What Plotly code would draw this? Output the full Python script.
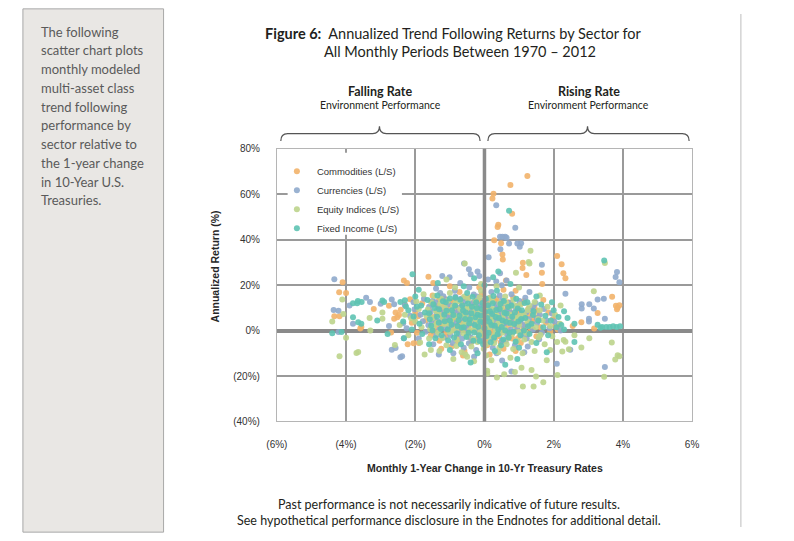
import plotly.graph_objects as go

# The page body keeps its default 8px margin; the figure fills the viewport inside it
OFF = 8
W, H = 794 - 2 * OFF, 541 - 2 * OFF

# ---------------- data (x = 1-yr change in 10-yr rate, %, y = annualized return, %) ----------------
series_names = ["Commodities (L/S)", "Currencies (L/S)", "Equity Indices (L/S)", "Fixed Income (L/S)"]
series_colors = ["#F2B36A", "#8FAACC", "#BDD48C", "#5EC3B2"]

commodities = [
    (1.24, 68.1), (0.75, 64.1), (0.26, 60.2), (0.23, 58.1), (0.80, 51.4), (0.40, 46.6), (0.38, 45.6),
    (0.28, 39.8), (0.48, 38.5), (0.52, 33.5), (0.53, 31.3), (1.11, 29.9), (1.10, 27.6), (2.10, 32.8),
    (2.23, 29.2), (2.28, 25.2), (2.34, 23.0), (1.21, 24.5), (1.66, 25.5), (1.67, 20.5), (0.62, 22.0),
    (3.69, 14.9), (3.80, 10.9), (3.85, 10.2), (3.90, 11.2), (3.83, 9.4), (3.27, 7.7), (2.80, 3.7),
    (3.17, 0.9), (2.55, 2.0), (-4.10, 21.3), (-4.20, 16.9), (-4.00, 16.6), (-4.34, 6.3), (-4.19, 6.3),
    (-3.56, 1.6), (-3.59, 0.9), (-2.76, 10.9), (-2.57, 8.0), (-2.47, 6.9), (-2.61, 5.2), (-2.52, 5.9),
    (-2.22, -6.0), (-2.05, -5.6), (-1.62, 23.7), (-1.48, 20.9), (-2.33, 22.0), (-2.24, 20.9), (-2.70, -0.8),
    (-3.20, 9.5), (-1.90, -5.5),
    (-1.80, 12.0), (-1.70, 4.5), (-1.60, 9.0), (-1.55, -2.0), (-1.50, 15.5), (-1.45, 6.0), (-1.40, 1.0),
    (-1.35, 11.0), (-1.30, -4.5), (-1.25, 8.5), (-1.20, 3.0), (-1.15, 14.0), (-1.10, -1.0), (-1.05, 6.5),
    (-1.00, 10.5), (-0.95, -7.0), (-0.90, 2.5), (-0.88, 13.0), (-0.85, 5.0), (-0.80, -3.0), (-0.78, 8.0),
    (-0.72, 17.0), (-0.70, 0.5), (-0.65, 11.5), (-0.60, 4.0), (-0.58, -9.0), (-0.55, 7.0), (-0.50, -1.5),
    (-0.48, 14.5), (-0.45, 2.0), (-0.40, 9.5), (-0.38, -5.0), (-0.35, 5.5), (-0.30, 12.5), (-0.28, 0.0),
    (-0.25, 7.5), (-0.20, -3.5), (-0.18, 3.5), (-0.15, 10.0), (-0.10, 1.0), (-0.08, 16.0), (-0.05, 5.0),
    (0.00, -2.0), (0.02, 8.5), (0.05, 2.5), (0.08, -6.5), (0.10, 4.0), (0.12, 12.0), (0.15, 0.5),
    (0.18, 6.0), (0.20, -1.0), (0.22, 3.0), (0.25, 9.0), (0.28, 1.5), (0.30, -4.0), (0.32, 5.0),
    (0.35, 14.0), (0.38, 2.5), (0.40, 7.0), (0.42, -2.5), (0.45, 0.5), (0.48, 4.5), (0.50, 10.5),
    (0.55, -8.0), (0.58, 3.0), (0.60, 6.5), (0.65, -0.5), (0.68, 12.5), (0.70, 2.0), (0.75, 8.0),
    (0.80, -3.5), (0.85, 4.5), (0.90, 17.5), (0.95, 1.0), (1.00, 9.0), (1.05, -5.5), (1.10, 5.5),
    (1.15, 13.0), (1.20, 2.5), (1.25, -1.5), (1.30, 7.0), (1.38, 4.0), (1.45, 10.0), (1.50, -2.5),
    (1.55, 6.0), (1.62, 1.5), (1.70, 13.5), (1.78, 3.5), (1.85, 8.0), (1.90, -0.5), (1.98, 5.0),
    (2.05, 2.0), (2.12, 0.5), (-2.00, 8.0), (-2.10, 3.5), (-1.95, -1.0), (-2.30, 11.5), (-0.62, -11.0),
    (0.15, -10.5), (0.90, -9.0), (-1.25, -8.0), (-0.15, 19.0), (0.55, 18.0), (-1.00, 19.5),
    (-1.58, 6.8), (-1.52, 11.8), (-1.47, -0.5), (-1.41, 4.2), (-1.36, 8.8), (-1.31, 13.6), (-1.27, 1.8),
    (-1.21, 6.2), (-1.17, 10.8), (-1.12, -2.6), (-1.07, 3.9), (-1.03, 8.1), (-0.97, 12.4), (-0.93, 0.2),
    (-0.87, 5.6), (-0.83, 9.9), (-0.77, -4.8), (-0.73, 3.1), (-0.67, 7.4), (-0.63, 14.2), (-0.57, 0.9),
    (-0.53, 5.1), (-0.47, 9.2), (-0.43, -2.9), (-0.37, 3.6), (-0.33, 7.9), (-0.27, 11.3), (-0.23, -0.7),
    (-0.17, 5.8), (-0.13, 13.2), (-0.07, 2.4), (-0.03, 7.1), (0.03, -4.1), (0.07, 10.6), (0.13, 3.3),
    (0.17, 8.3), (0.23, -1.6), (0.27, 4.8), (0.33, 12.7), (0.37, 0.4), (0.43, 6.1), (0.47, -5.2),
    (0.53, 8.9), (0.57, 1.3), (0.63, 4.4), (0.67, 10.2), (0.73, -1.1), (0.77, 5.9), (0.83, 14.6),
    (0.87, 2.2), (0.93, 7.3), (0.97, -3.3), (1.03, 3.6), (1.07, 11.9), (1.13, 0.8), (1.17, 6.9),
    (1.27, 9.6), (1.33, 1.1), (1.43, 5.3), (1.53, 8.6), (-2.15, 13.8), (-1.92, 6.3), (-2.42, 9.2),
]

currencies = [
    (0.34, 55.2), (0.89, 45.3), (0.45, 41.3), (0.52, 41.3), (0.60, 41.3), (0.64, 40.9), (0.71, 38.3),
    (0.95, 38.3), (1.02, 36.9), (1.06, 38.5), (0.46, 35.8), (0.12, 32.3), (1.66, 29.0), (0.45, 25.2),
    (0.34, 21.6), (0.64, 22.0), (3.83, 25.8), (3.79, 23.6), (3.90, 21.3), (2.34, 16.2), (2.81, 11.6),
    (2.81, 9.7), (3.03, 11.6), (3.16, 9.7), (3.27, 13.7), (3.45, 14.0), (3.02, 5.2), (3.02, 4.0),
    (3.48, 5.2), (2.48, -8.4), (3.48, -16.0), (2.09, -14.6), (0.51, -13.2), (0.78, -18.0), (-0.59, 29.5),
    (-0.45, 27.0), (-0.40, 24.8), (-0.20, 26.0), (-0.15, 24.0), (-1.22, 24.0), (-1.01, 23.5), (-4.34, 22.6),
    (-4.36, 9.1), (-4.22, 8.7), (-3.42, 14.5), (-3.31, 12.6), (-3.80, 3.0), (-4.22, -0.6), (-2.68, 13.7),
    (-2.61, 11.6), (-2.30, 11.2), (-2.76, 2.0), (-2.68, -8.4), (-2.43, -11.7), (-2.33, -3.4), (-2.57, -7.7),
    (-2.38, -11.3), (-1.32, -10.5), (-3.90, 11.0), (-3.00, 11.8),
    (-1.85, 7.0), (-1.75, 14.0), (-1.70, -0.5), (-1.60, 10.5), (-1.52, 3.5), (-1.48, -6.0), (-1.42, 12.5),
    (-1.38, 7.5), (-1.30, 0.5), (-1.28, 16.5), (-1.22, 4.5), (-1.18, -3.0), (-1.12, 9.5), (-1.08, 13.5),
    (-1.02, 1.5), (-0.98, 6.0), (-0.92, -5.5), (-0.90, 11.0), (-0.86, 17.5), (-0.82, 3.5), (-0.76, 8.5),
    (-0.74, -1.5), (-0.68, 14.0), (-0.64, 5.5), (-0.60, -7.5), (-0.56, 10.0), (-0.52, 1.0), (-0.46, 6.5),
    (-0.44, 19.0), (-0.40, -3.0), (-0.36, 12.0), (-0.32, 3.0), (-0.28, 8.0), (-0.24, -8.5), (-0.22, 15.0),
    (-0.18, 0.0), (-0.14, 6.0), (-0.12, 11.0), (-0.06, -4.5), (-0.04, 3.5), (0.00, 13.5), (0.04, 7.0),
    (0.06, 0.5), (0.10, -2.5), (0.14, 10.0), (0.16, 4.5), (0.20, 17.0), (0.24, -7.5), (0.26, 6.5),
    (0.30, 1.5), (0.34, 11.5), (0.36, -0.5), (0.40, 4.0), (0.44, 15.5), (0.46, 8.5), (0.50, -4.5),
    (0.54, 2.0), (0.58, 12.0), (0.62, 5.5), (0.66, -2.0), (0.72, 9.0), (0.76, 0.5), (0.78, 16.0),
    (0.82, 6.5), (0.88, -6.5), (0.92, 3.5), (0.96, 11.0), (1.02, -0.5), (1.08, 7.5), (1.12, 2.5),
    (1.18, 14.5), (1.22, -3.5), (1.28, 5.0), (1.34, 9.5), (1.40, 0.5), (1.48, 12.0), (1.52, 3.5),
    (1.60, 7.0), (1.66, -1.0), (1.72, 9.5), (1.80, 4.5), (1.88, 1.0), (1.95, 7.5), (2.02, 4.0),
    (2.15, 3.0), (2.20, 0.0), (-2.05, 12.5), (-2.15, 6.5), (-2.25, 1.0), (-1.90, -3.5), (-0.30, -11.5),
    (0.35, -10.0), (1.15, -9.5), (-0.90, -10.0), (0.50, 20.0), (-0.70, 21.0), (1.30, 17.0), (-1.40, 18.5),
    (0.10, 22.5), (1.25, -7.0),
    (-1.62, 2.4), (-1.56, 8.2), (-1.50, 13.0), (-1.44, 5.1), (-1.39, -2.2), (-1.33, 10.1), (-1.29, 3.9),
    (-1.23, 7.9), (-1.19, 15.1), (-1.13, 0.9), (-1.09, 5.9), (-1.04, 11.6), (-0.99, -1.9), (-0.94, 3.1),
    (-0.89, 8.1), (-0.84, 14.9), (-0.79, 0.3), (-0.74, 4.9), (-0.69, 10.4), (-0.65, -3.6), (-0.61, 7.2),
    (-0.55, 12.9), (-0.51, 2.9), (-0.45, -5.6), (-0.41, 8.6), (-0.35, 4.4), (-0.31, 15.9), (-0.25, 1.3),
    (-0.21, 9.6), (-0.15, -2.9), (-0.11, 4.9), (-0.05, 10.8), (0.01, -0.9), (0.05, 5.6), (0.11, 14.1),
    (0.15, 1.9), (0.21, 8.8), (0.25, -3.9), (0.31, 4.1), (0.35, 9.9), (0.41, -1.2), (0.45, 6.3),
    (0.51, 13.3), (0.55, 2.7), (0.61, -4.6), (0.65, 8.4), (0.71, 3.3), (0.75, 12.3), (0.81, -0.8),
    (0.85, 5.4), (0.91, 9.7), (0.95, 1.6), (1.01, 13.0), (1.05, 4.6), (1.11, -2.3), (1.21, 8.1),
    (1.31, 2.6), (1.41, 10.7), (1.51, 5.6), (1.58, -3.8), (-2.02, 9.4), (-1.78, 4.1), (-2.35, 3.2),
]

equity_indices = [
    (1.33, 35.2), (1.28, 30.2), (1.30, 29.5), (-0.57, 29.5), (0.91, 25.5), (3.16, 17.3), (3.48, 29.7),
    (2.29, -4.1), (2.34, -4.9), (2.25, -9.2), (3.03, -3.4), (2.80, -7.4), (3.68, -5.2), (3.85, -10.9),
    (3.90, -11.3), (3.78, -12.7), (3.46, -20.3), (1.11, -24.6), (1.42, -24.6), (0.36, -20.6), (0.57, -19.2),
    (0.08, -17.7), (0.08, -18.9), (1.49, -20.2), (1.70, -22.7), (2.11, -19.5), (1.36, -17.3), (1.07, -16.3),
    (0.88, -18.2), (2.44, -8.2), (1.90, -8.5), (-4.11, 13.7), (-4.08, 7.3), (-3.32, 5.5), (-4.00, -3.1),
    (-4.19, -11.3), (-3.70, -9.9), (-3.65, -9.4), (-2.95, 8.0), (-2.95, 5.2), (-2.59, -6.3), (-1.73, -10.5),
    (-0.90, -12.5), (-0.50, -11.5), (-4.40, 4.0), (-3.30, 0.0), (-1.10, 22.5), (2.20, 11.0), (2.60, -2.0),
    (1.80, -13.0),
    (-2.00, 4.0), (-1.90, 9.5), (-1.82, 1.5), (-1.76, 16.0), (-1.68, 6.5), (-1.60, -3.5), (-1.54, 12.5),
    (-1.46, 2.0), (-1.40, 8.5), (-1.34, -1.0), (-1.26, 14.0), (-1.20, 5.5), (-1.14, 10.0), (-1.10, -6.5),
    (-1.04, 3.0), (-1.00, 16.5), (-0.96, 8.0), (-0.90, 0.0), (-0.84, 12.0), (-0.80, -4.0), (-0.76, 5.0),
    (-0.70, 9.5), (-0.66, -9.5), (-0.62, 2.5), (-0.58, 15.0), (-0.54, 6.0), (-0.50, -2.5), (-0.46, 10.5),
    (-0.42, 3.5), (-0.38, -7.0), (-0.34, 8.0), (-0.30, 0.5), (-0.26, 13.0), (-0.22, 4.5), (-0.20, -5.0),
    (-0.16, 9.0), (-0.12, -0.5), (-0.10, 17.5), (-0.06, 5.5), (-0.02, -8.0), (0.02, 11.5), (0.06, 2.0),
    (0.08, 7.0), (0.12, -3.0), (0.16, 14.5), (0.20, 4.0), (0.24, 9.5), (0.28, -5.5), (0.32, 0.0),
    (0.36, 6.5), (0.40, -9.5), (0.44, 12.0), (0.48, 2.5), (0.52, -1.0), (0.56, 7.5), (0.60, 15.0),
    (0.64, -6.0), (0.70, 4.0), (0.74, 10.5), (0.80, -1.5), (0.84, 13.5), (0.90, 6.0), (0.94, -4.5),
    (1.00, 2.5), (1.04, 11.5), (1.10, -10.0), (1.14, 7.0), (1.20, -1.0), (1.24, 4.0), (1.30, 11.0),
    (1.36, -5.0), (1.42, 7.5), (1.48, 1.5), (1.56, -3.0), (1.60, 9.0), (1.68, 4.5), (1.74, -6.0),
    (1.82, 10.5), (1.90, 2.0), (1.96, -2.5), (2.04, 7.0), (2.10, -5.0), (2.18, 3.0), (-2.20, -2.0),
    (-2.30, 7.0), (-2.45, 2.5), (-1.55, -8.5), (0.20, -13.0), (0.75, -12.0), (-0.30, -13.5), (1.45, -9.0),
    (-0.10, 20.5), (0.35, 19.5), (-0.85, 19.0), (1.00, 19.0), (-0.55, -10.5), (0.05, -11.0), (1.60, 15.5),
    (-1.30, -9.0),
    (-1.64, 9.3), (-1.57, 0.6), (-1.51, 5.6), (-1.45, 15.2), (-1.38, 3.3), (-1.32, 7.2), (-1.28, 11.7),
    (-1.22, -3.3), (-1.16, 2.9), (-1.11, 8.4), (-1.06, 13.1), (-1.01, -0.6), (-0.96, 4.3), (-0.91, 10.6),
    (-0.86, 6.4), (-0.81, -6.8), (-0.76, 1.2), (-0.71, 12.8), (-0.66, 6.9), (-0.61, -1.2), (-0.56, 3.8),
    (-0.52, 9.6), (-0.47, 13.9), (-0.42, 0.2), (-0.36, 5.2), (-0.32, -3.7), (-0.27, 10.2), (-0.22, 2.1),
    (-0.18, 6.6), (-0.14, 14.7), (-0.08, -2.1), (-0.04, 8.7), (0.02, 3.9), (0.06, -5.9), (0.10, 9.1),
    (0.14, 1.4), (0.19, 5.4), (0.23, 12.9), (0.29, -2.1), (0.33, 7.1), (0.39, 3.1), (0.43, -7.4),
    (0.49, 10.1), (0.53, 5.3), (0.59, 0.7), (0.63, 12.1), (0.69, -3.4), (0.73, 7.1), (0.79, 2.9),
    (0.83, -8.1), (0.89, 10.9), (0.93, 4.9), (0.99, -0.6), (1.05, 6.6), (1.15, -3.9), (1.25, 9.1),
    (1.35, 2.1), (1.45, 12.6), (1.55, 5.1), (1.62, -1.9), (-1.97, 12.8), (-2.12, 5.4), (-1.86, -5.2),
]

fixed_income = [
    (0.71, 52.8), (3.46, 30.9), (-2.08, 24.8), (-3.80, 12.0), (-3.66, 13.0), (-3.68, 12.0), (-3.55, 12.6),
    (-3.80, 5.9), (-3.65, 3.7), (-3.56, 3.0), (-4.13, -0.6), (-2.95, 13.3), (-2.90, 12.6), (-2.43, 12.6),
    (-2.30, 13.4), (-2.33, -3.4), (3.27, 2.6), (3.40, 1.6), (3.52, 1.6), (3.62, 1.6), (3.72, 1.9),
    (3.82, 1.6), (3.92, 1.9), (3.35, 1.2), (2.60, 3.0), (2.40, 5.5), (-4.40, -1.2), (-3.10, 4.5),
    (-2.80, -1.5), (2.30, 8.5), (1.95, 12.5), (0.40, 26.0), (-0.30, 23.0), (2.60, -5.0),
    (-1.95, 10.5), (-1.88, 3.0), (-1.80, -1.5), (-1.72, 8.0), (-1.65, 13.5), (-1.58, 5.0), (-1.50, 0.0),
    (-1.44, 10.0), (-1.36, 15.5), (-1.32, 3.5), (-1.24, -2.0), (-1.16, 7.0), (-1.12, 12.5), (-1.06, 0.5),
    (-1.00, 4.5), (-0.94, 9.0), (-0.88, -3.0), (-0.84, 14.5), (-0.78, 2.0), (-0.72, 6.5), (-0.68, -6.0),
    (-0.64, 11.0), (-0.60, 1.5), (-0.54, 8.0), (-0.50, 16.5), (-0.46, -1.0), (-0.42, 5.0), (-0.36, 10.5),
    (-0.32, -4.5), (-0.28, 2.5), (-0.24, 12.5), (-0.20, 7.0), (-0.16, -2.0), (-0.12, 4.0), (-0.08, 9.5),
    (-0.04, -6.0), (0.00, 1.0), (0.04, 14.0), (0.08, 5.5), (0.12, -1.0), (0.16, 8.5), (0.20, 2.5),
    (0.24, 12.0), (0.28, -3.0), (0.32, 6.0), (0.36, 17.5), (0.40, 0.5), (0.44, 9.5), (0.48, -6.5),
    (0.52, 4.5), (0.56, 13.0), (0.60, 0.0), (0.64, 7.5), (0.70, -3.0), (0.74, 3.5), (0.78, 11.0),
    (0.84, -0.5), (0.88, 8.0), (0.92, 14.0), (0.98, 4.0), (1.04, -2.0), (1.08, 9.0), (1.14, 0.0),
    (1.18, 5.5), (1.24, 12.5), (1.30, -1.5), (1.36, 3.0), (1.42, 8.5), (1.50, -5.5), (1.56, 4.5),
    (1.64, 11.5), (1.70, 1.5), (1.76, 6.5), (1.84, -2.0), (1.92, 4.5), (2.00, 9.0), (2.08, 1.5),
    (2.14, 6.0), (2.22, 2.5), (2.30, 0.5), (-2.10, 0.5), (-2.20, 9.0), (-2.35, 4.0), (-2.00, 15.0),
    (-1.00, -8.5), (0.30, -9.0), (1.00, -7.5), (-0.20, -10.0), (1.80, -9.5), (-1.60, -6.0), (0.00, 20.0),
    (-0.60, 19.5), (0.75, 20.5), (1.50, 15.0), (-1.90, 18.0), (0.95, -12.5), (-0.40, -14.0), (0.60, -15.0),
    (-1.35, 21.0), (0.25, 23.5),
    (-1.60, 7.6), (-1.54, 2.1), (-1.48, 11.6), (-1.42, -3.4), (-1.37, 6.1), (-1.31, 9.4), (-1.26, 0.7),
    (-1.20, 12.9), (-1.15, 4.1), (-1.10, 8.7), (-1.05, -4.2), (-1.00, 14.1), (-0.95, 2.6), (-0.90, 6.9),
    (-0.85, 10.9), (-0.80, -1.3), (-0.75, 4.6), (-0.70, 13.6), (-0.66, 1.2), (-0.62, 8.9), (-0.56, 5.1),
    (-0.52, -2.8), (-0.48, 11.9), (-0.44, 3.1), (-0.38, 7.6), (-0.34, 14.9), (-0.30, -0.8), (-0.26, 5.9),
    (-0.22, 9.9), (-0.18, 1.7), (-0.14, -4.6), (-0.10, 6.6), (-0.06, 12.2), (-0.02, 3.4), (0.02, 8.2),
    (0.06, -2.4), (0.10, 11.2), (0.14, 3.9), (0.18, -5.1), (0.22, 7.3), (0.26, 15.2), (0.30, 2.1),
    (0.34, 9.1), (0.38, -1.6), (0.42, 5.6), (0.46, 11.7), (0.50, 1.6), (0.54, -3.9), (0.58, 7.9),
    (0.62, 3.9), (0.68, 10.4), (0.72, -0.9), (0.80, 6.1), (0.86, 2.9), (0.90, -4.9), (0.96, 9.7),
    (1.06, 5.1), (1.16, 12.1), (1.26, 1.9), (1.40, 6.9), (-2.05, 6.2), (-1.83, 11.1), (-2.27, 10.6),
]

x_tick_vals = [-6, -4, -2, 0, 2, 4, 6]
x_tick_text = ["(6%)", "(4%)", "(2%)", "0%", "2%", "4%", "6%"]
y_tick_vals = [-40, -20, 0, 20, 40, 60, 80]
y_tick_text = ["(40%)", "(20%)", "0%", "20%", "40%", "60%", "80%"]

sidebar_lines = ["The following", "scatter chart plots", "monthly modeled", "multi-asset class",
                 "trend following", "performance by", "sector relative to", "the 1-year change",
                 "in 10-Year U.S.", "Treasuries."]

# ---------------- helpers (screen pixel -> paper) ----------------
def px(x):
    return (x - OFF) / W

def py(y):
    return 1 - (y - OFF) / H

PLOT_L, PLOT_R, PLOT_T, PLOT_B = 272, 697, 146, 425

fig = go.Figure()
for name, color, pts in zip(series_names, series_colors,
                            [commodities, currencies, equity_indices, fixed_income]):
    fig.add_trace(go.Scatter(
        x=[p[0] for p in pts], y=[p[1] for p in pts], mode="markers", name=name,
        marker=dict(size=6, color=color, opacity=0.9, line=dict(width=0)),
        hoverinfo="skip",
    ))

tick_font = dict(family="Liberation Sans, Arial, sans-serif", size=10, color="#333333")
fig.update_xaxes(
    domain=[px(PLOT_L), px(PLOT_R)], range=[-6, 6], tickvals=x_tick_vals, ticktext=x_tick_text,
    showgrid=True, gridcolor="#9a9a9a", gridwidth=1.5, zeroline=False,
    showline=True, mirror=True, linecolor="#b5b5b5", linewidth=1,
    ticks="", tickfont=tick_font, ticklabelstandoff=14, fixedrange=True,
)
fig.update_yaxes(
    domain=[py(PLOT_B), py(PLOT_T)], range=[-40, 80], tickvals=y_tick_vals, ticktext=y_tick_text,
    showgrid=True, gridcolor="#9a9a9a", gridwidth=1.5, zeroline=True, zerolinecolor="#8a8a8a",
    zerolinewidth=3.5, showline=True, mirror=True, linecolor="#b5b5b5", linewidth=1,
    ticks="", tickfont=tick_font, ticklabelstandoff=14, fixedrange=True,
)

shapes = []
# sidebar panel
shapes.append(dict(type="rect", xref="paper", yref="paper", x0=px(12), x1=px(156), y0=-0.01, y1=1.01,
                   fillcolor="#e9e7e4", line=dict(color="#a8a8a8", width=1), layer="below"))
# right divider
shapes.append(dict(type="line", xref="paper", yref="paper", x0=px(747), x1=px(747), y0=0, y1=1,
                   line=dict(color="#bdbdbd", width=1)))
# vertical axis line at 0% (drawn over the points, as in the original)
shapes.append(dict(type="line", xref="x", yref="y domain", x0=0, x1=0, y0=0, y1=1,
                   line=dict(color="#8a8a8a", width=3.5), layer="above"))
# legend background
shapes.append(dict(type="rect", xref="paper", yref="paper", x0=px(283), x1=px(400), y0=py(234), y1=py(150),
                   fillcolor="white", line=dict(width=0), layer="above"))

# braces
def brace(x0, x1, xm, yb=138, yt=130.5, yp=123, r=7, r2=7):
    pts = (f"M {px(x0)},{py(yb)} Q {px(x0)},{py(yt)} {px(x0 + r)},{py(yt)} "
           f"L {px(xm - r2)},{py(yt)} Q {px(xm)},{py(yt)} {px(xm)},{py(yp)} "
           f"Q {px(xm)},{py(yt)} {px(xm + r2)},{py(yt)} "
           f"L {px(x1 - r)},{py(yt)} Q {px(x1)},{py(yt)} {px(x1)},{py(yb)}")
    return dict(type="path", xref="paper", yref="paper", path=pts, line=dict(color="#555555", width=1.2))

shapes.append(brace(276, 480, 377))
shapes.append(brace(488, 694, 590))

annotations = []
side_font = dict(family="Lato, Open Sans, sans-serif", size=13, color="#5a5a5a")
for i, line in enumerate(sidebar_lines):
    annotations.append(dict(text=line, x=px(28), y=py(26 + i * 19.2), xref="paper", yref="paper",
                            xanchor="left", yanchor="middle", showarrow=False, font=side_font))

title_font = dict(family="Lato, Open Sans, sans-serif", size=14.5, color="#231f20")
annotations.append(dict(text="<b>Figure 6:</b>  Annualized Trend Following Returns by Sector for",
                        x=px(258), y=py(28), xref="paper", yref="paper", xanchor="left", yanchor="middle",
                        showarrow=False, font=title_font))
annotations.append(dict(text="All Monthly Periods Between 1970 – 2012",
                        x=px(318), y=py(46), xref="paper", yref="paper", xanchor="left", yanchor="middle",
                        showarrow=False, font=title_font))

hdr_b = dict(family="Lato, Open Sans, sans-serif", size=12.5, color="#231f20")
hdr_r = dict(family="Lato, Open Sans, sans-serif", size=10.5, color="#231f20")
for cx, label in [(378, "Falling Rate"), (591, "Rising Rate")]:
    annotations.append(dict(text=f"<b>{label}</b>", x=px(cx), y=py(87), xref="paper", yref="paper",
                            xanchor="center", yanchor="middle", showarrow=False, font=hdr_b))
    annotations.append(dict(text="Environment Performance", x=px(cx), y=py(101), xref="paper", yref="paper",
                            xanchor="center", yanchor="middle", showarrow=False, font=hdr_r))

axis_title_font = dict(family="Liberation Sans, Arial, sans-serif", size=10.5, color="#262626")
annotations.append(dict(text="<b>Annualized Return (%)</b>", x=px(209), y=py(266), xref="paper", yref="paper",
                        xanchor="center", yanchor="middle", textangle=-90, showarrow=False, font=axis_title_font))
annotations.append(dict(text="<b>Monthly 1-Year Change in 10-Yr Treasury Rates</b>", x=px(485), y=py(472.5),
                        xref="paper", yref="paper", xanchor="center", yanchor="middle", showarrow=False,
                        font=axis_title_font))

foot_font = dict(family="Lato, Open Sans, sans-serif", size=12.5, color="#231f20")
annotations.append(dict(text="Past performance is not necessarily indicative of future results.",
                        x=px(448), y=py(510), xref="paper", yref="paper", xanchor="center", yanchor="middle",
                        showarrow=False, font=foot_font))
annotations.append(dict(text="See hypothetical performance disclosure in the Endnotes for additional detail.",
                        x=px(448), y=py(526), xref="paper", yref="paper", xanchor="center", yanchor="middle",
                        showarrow=False, font=foot_font))

fig.update_layout(
    width=W, height=H, autosize=False, margin=dict(l=0, r=0, t=0, b=0),
    paper_bgcolor="white", plot_bgcolor="white",
    shapes=shapes, annotations=annotations,
    showlegend=True,
    legend=dict(x=px(272), y=py(154), xanchor="left", yanchor="top", bgcolor="rgba(0,0,0,0)",
                borderwidth=0, font=dict(family="Liberation Sans, Arial, sans-serif", size=9.5, color="#333333"),
                itemclick=False, itemdoubleclick=False),
)

fig.write_html("out.html", config={"displayModeBar": False})
